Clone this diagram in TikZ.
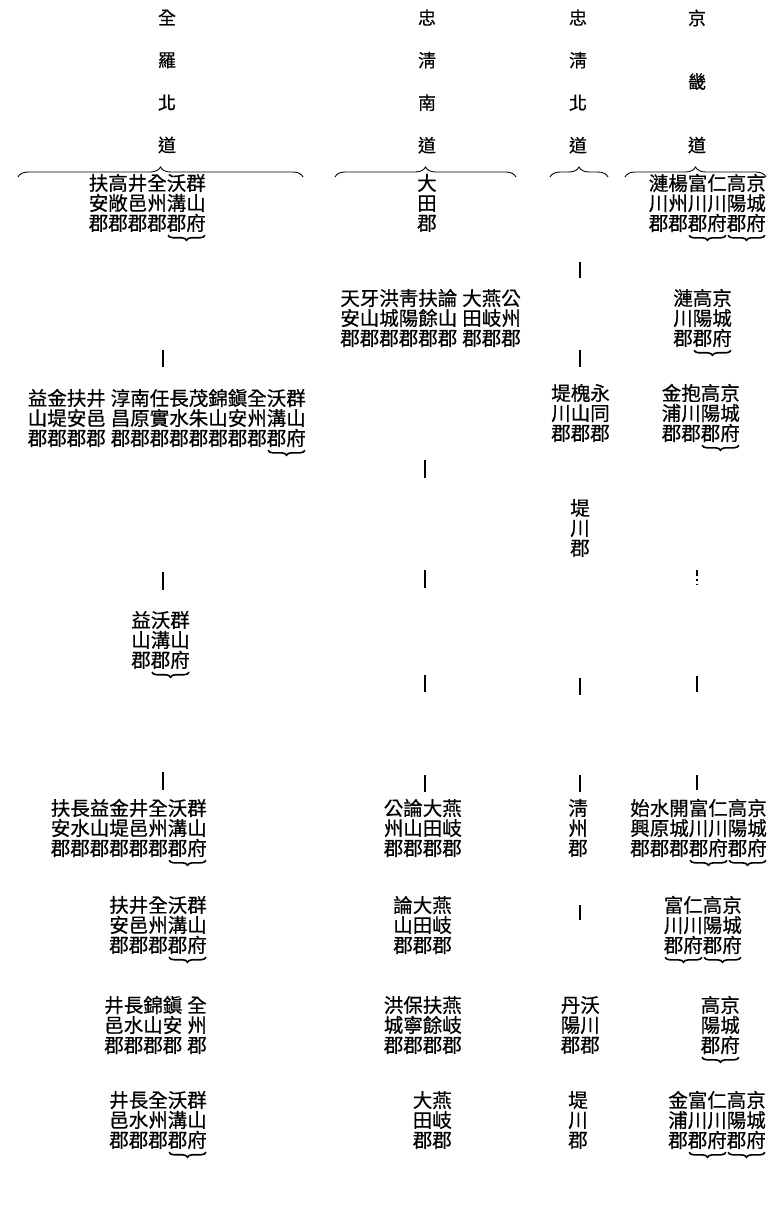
\documentclass[tikz,border=0pt]{standalone}
\usepackage{fontspec}
\newfontfamily\cjk[FakeBold=0.5]{Noto Sans CJK TC}
\usetikzlibrary{decorations.pathreplacing,calc}
\newcommand{\gp}{\hspace{5pt}}
\begin{document}
\begin{tikzpicture}[x=1pt,y=-1pt,
  blk/.style={font=\cjk\fontsize{19.5}{20}\selectfont, align=center, inner sep=0pt},
  hd/.style={font=\cjk\fontsize{18}{42.5}\selectfont, align=center, inner sep=0pt},
  sepline/.style={line width=1.5pt},
  ubrace/.style={decorate, decoration={brace, mirror, amplitude=5pt}, line width=1.6pt},
  obrace/.style={decorate, decoration={brace, amplitude=10pt}, line width=0.9pt}]
\useasboundingbox[fill=white] (0,0) rectangle (767,1212);

% headers
\node[hd] (hJB) at (167,81.5) {全\\羅\\北\\道};
\node[hd] (hCN) at (427,81.5) {忠\\淸\\南\\道};
\node[hd] (hCB) at (578,81.5) {忠\\淸\\北\\道};
\node[hd, font=\cjk\fontsize{18}{63.5}\selectfont] (hGG) at (697,81.5) {京\\畿\\道};

\draw[obrace] (18,177) -- (303,177);
\draw[obrace] (335,177) -- (516,177);
\draw[obrace] (550,177) -- (608,177);
\draw[obrace] (625,177) -- (766,177);

% 全羅北道
\node[blk, anchor=east] (jb1) at (206,203) {扶高井全沃群\\安敞邑州溝山\\郡郡郡郡郡府};
\node[blk, anchor=east] (jb2) at (306,418) {益金扶井\gp 淳南任長茂錦鎭全沃群\\山堤安邑\gp 昌原實水朱山安州溝山\\郡郡郡郡\gp 郡郡郡郡郡郡郡郡郡府};
\node[blk, anchor=east] (jb3) at (190,640) {益沃群\\山溝山\\郡郡府};
\node[blk, anchor=east] (jb4) at (207,828) {扶長益金井全沃群\\安水山堤邑州溝山\\郡郡郡郡郡郡郡府};
\node[blk, anchor=east] (jb5) at (207,925) {扶井全沃群\\安邑州溝山\\郡郡郡郡府};
\node[blk, anchor=east] (jb6) at (207,1025) {井長錦鎭\gp 全\\邑水山安\gp 州\\郡郡郡郡\gp 郡};
\node[blk, anchor=east] (jb7) at (207,1120) {井長全沃群\\邑水州溝山\\郡郡郡郡府};

% 忠清南道
\node[blk] (cn1) at (427,203) {大\\田\\郡};
\node[blk, anchor=east] (cn2) at (521,318) {天牙洪靑扶論\gp 大燕公\\安山城陽餘山\gp 田岐州\\郡郡郡郡郡郡\gp 郡郡郡};
\node[blk, anchor=east] (cn4) at (462,828) {公論大燕\\州山田岐\\郡郡郡郡};
\node[blk, anchor=east] (cn5) at (452,925) {論大燕\\山田岐\\郡郡郡};
\node[blk, anchor=east] (cn6) at (462,1025) {洪保扶燕\\城寧餘岐\\郡郡郡郡};
\node[blk, anchor=east] (cn7) at (452,1120) {大燕\\田岐\\郡郡};

% 忠清北道
\node[blk, anchor=east] (cb2) at (610,413) {堤槐永\\川山同\\郡郡郡};
\node[blk] (cb3) at (580,528) {堤\\川\\郡};
\node[blk] (cb4) at (578,828) {淸\\州\\郡};
\node[blk, anchor=east] (cb6) at (600,1025) {丹沃\\陽川\\郡郡};
\node[blk] (cb7) at (578,1120) {堤\\川\\郡};

% 京畿道
\node[blk, anchor=east] (gg1) at (766,203) {漣楊富仁高京\\川州川川陽城\\郡郡郡府郡府};
\node[blk, anchor=east] (gg2) at (732,318) {漣高京\\川陽城\\郡郡府};
\node[blk, anchor=east] (gg3) at (740,413) {金抱高京\\浦川陽城\\郡郡郡府};
\node[blk, anchor=east] (gg4) at (767,828) {始水開富仁高京\\興原城川川陽城\\郡郡郡郡府郡府};
\node[blk, anchor=east] (gg5) at (742,925) {富仁高京\\川川陽城\\郡府郡府};
\node[blk, anchor=east] (gg6) at (740,1025) {高京\\陽城\\郡府};
\node[blk, anchor=east] (gg7) at (766,1120) {金富仁高京\\浦川川陽城\\郡郡府郡府};

% under-braces (last two columns)
\foreach \n in {jb1,jb2,jb3,jb4,jb5,jb7,gg1,gg2,gg3,gg4,gg5,gg6,gg7}{
  \draw[ubrace] ($(\n.south east)+(-38,3)$) -- ($(\n.south east)+(-1,3)$);
}
\foreach \n in {gg1,gg4,gg5,gg7}{
  \draw[ubrace] ($(\n.south east)+(-77,3)$) -- ($(\n.south east)+(-40,3)$);
}

% separator ticks
\foreach \x/\a/\b in {163/350/367, 163/572/590, 163/772/790,
  425/460/478, 425/570/588, 425/675/692, 425/775/792,
  580/262/278, 580/350/367, 580/678/695, 580/775/792, 580/905/920,
  697/676/692, 697/775/790}{
  \draw[sepline] (\x,\a) -- (\x,\b);
}
\draw[line width=1.2pt, dash pattern=on 6pt off 3pt on 2pt off 3pt] (697,570) -- (697,585);
\end{tikzpicture}
\end{document}
